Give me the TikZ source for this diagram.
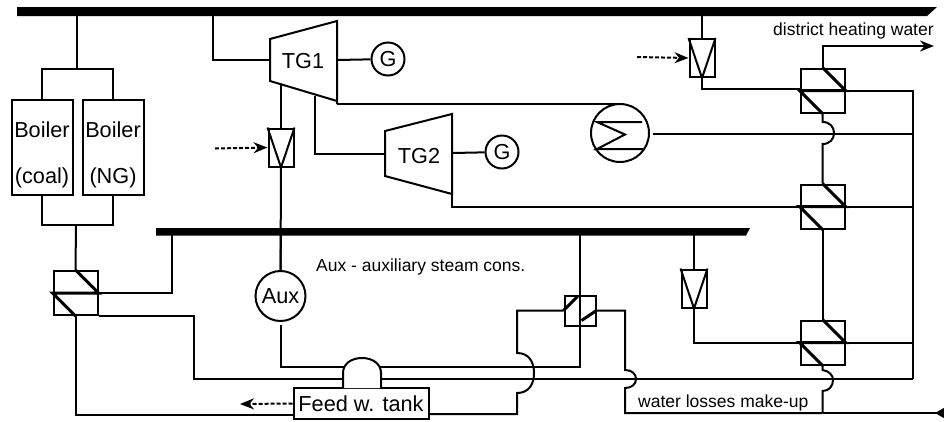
\documentclass[tikz,border=0pt]{standalone}
\usepackage{fontspec}
\setmainfont{Liberation Sans}
\usetikzlibrary{arrows.meta,calc}
\tikzset{
  pipe/.style={line width=2pt},
  coil/.style={line width=3pt},
  bigtext/.style={font=\fontsize{21.7}{25}\selectfont,inner sep=0pt},
  smalltext/.style={font=\fontsize{17.5}{21}\selectfont,inner sep=0pt},
  hxbox/.style={draw,pipe,minimum width=44pt,minimum height=44pt,inner sep=0pt},
  vbox/.style={draw,pipe,minimum width=25pt,minimum height=38pt,inner sep=0pt},
  boilerbox/.style={draw,pipe,minimum width=61pt,minimum height=95pt,inner sep=0pt},
  rotor/.style={draw,pipe,circle,inner sep=0pt,bigtext},
  flow/.style={pipe,-{Stealth[length=14pt,width=11pt]}},
  aidflow/.style={flow,dash pattern=on 4pt off 2pt},
}
% heat exchanger with the z shaped coil, and the valve triangle
\newcommand{\hxcoil}[1]{
  \draw[coil] (#1.north) -- (#1.east) -- (#1.west) -- (#1.south);
}
\newcommand{\vcoil}[1]{
  \draw[pipe] (#1.north west) -- (#1.south) -- (#1.north east);
}
\begin{document}
\begin{tikzpicture}[x=1pt,y=-1pt]
        \useasboundingbox (0,0) rectangle (944,421);

        % steam headers
        \fill (17,7) -- (937,7) -- (927,16) -- (17,16) -- cycle;
        \fill (156,228) -- (750,228) -- (746,235.5) -- (156,235.5) -- cycle;

        \path
        (77,16) coordinate (tapboil)
        (213,16) coordinate (taptg)
        (702,16) coordinate (tapvb)
        (172,235) coordinate (tapa)
        (281,228) coordinate (tapaux)
        (580,235) coordinate (tapc)
        (694,235) coordinate (tapvc)
        (77,69) coordinate (splitb)
        (76,225) coordinate (joinb)
        ;

        \node[boilerbox] (boilc) at (42,147) {};
        \node[boilerbox] (boiln) at (113,147) {};
        \node[bigtext,anchor=base] (boilct) at (42,137) {Boiler};
        \node[bigtext,anchor=base] (boilcb) at (42,183) {(coal)};
        \node[bigtext,anchor=base] (boilnt) at (113,137) {Boiler};
        \node[bigtext,anchor=base] (boilnb) at (113,183) {(NG)};

        \node[hxbox] (hxa) at (75.5,293) {};
        \node[hxbox] (hxb) at (822.5,90.5) {};
        \node[hxbox] (hxd) at (822.5,206.5) {};
        \node[hxbox] (hxe) at (822.5,342.5) {};
        \node[hxbox,minimum width=31pt,minimum height=30pt] (hxc) at (580,310.5) {};
        \hxcoil{hxa}
        \hxcoil{hxb}
        \hxcoil{hxd}
        \hxcoil{hxe}
        \draw[coil] (hxc.west) -- ++(14,-14);
        \draw[coil] (hxc.east) -- ++(-15,10);

        \node[vbox] (vba) at (281,147.5) {};
        \node[vbox] (vbb) at (702,58) {};
        \node[vbox] (vbc) at (694,288.5) {};
        \vcoil{vba}
        \vcoil{vbb}
        \vcoil{vbc}

        % turbines
        \draw[pipe,line join=miter] (270,39) coordinate (tgaw)
        -- (337,21) -- (337,104) coordinate (tgae)
        -- (337,101) -- (270,81) -- cycle;
        \node[bigtext] (tga) at (303,61) {TG1};
        \draw[pipe] (385,131) coordinate (tgbw)
        -- (452,114) -- (452,194) coordinate (tgbe)
        -- (385,176) -- cycle;
        \node[bigtext] (tgb) at (419,156) {TG2};
        \node[rotor,minimum size=33pt] (gena) at (388,59) {G};
        \node[rotor,minimum size=33pt] (genb) at (502,152) {G};
        \node[rotor,minimum size=50pt] (aux) at (280.5,296) {Aux};

        % condenser
        \node[draw,pipe,circle,minimum size=58pt,inner sep=0pt] (cond) at (620,133) {};
        \draw[pipe] (642,122) -- (597,122) -- (625,134.5) -- (597,149) -- (643,149);

        \draw[pipe] (tapboil) -- (splitb);
        \draw[pipe] (boilc.north) |- (splitb) -| (boiln.north);
        \draw[pipe] (boilc.south) |- (joinb) -| (boiln.south);
        \draw[pipe] (joinb) -- (hxa.north);
        \draw[pipe] (hxa.east) -| (tapa);

        \draw[pipe] (taptg) |- (270,60);
        \draw[pipe] (337,60) -- (gena);
        \draw[pipe] (281,85) -- (vba.north);
        \draw[pipe] (vba.south) -- (aux.north);
        \draw[pipe] (315,96) |- (tgbw |- 154,154);
        \draw[pipe] (452,153) -- (genb);
        \draw[pipe] (tgae) -- (622,104);
        \draw[pipe] (tgbe) |- (hxd.west);

        \draw[pipe] (tapvb) -- (vbb.north);
        \draw[pipe] (vbb.south) |- (800,89);
        \draw[pipe] (tapvc) -- (vbc.north);
        \draw[pipe] (vbc.south) |- (hxe.west);
        \draw[flow] (hxb.north) |- (934,46) coordinate (dhwater);

        \coordinate (rtop) at (913,90.5);
        \coordinate (rbot) at (913,379);
        \draw[pipe] (hxb.east) -- (rtop) -- (rbot);
        \draw[pipe] (653,134) -- (rtop |- 653,134);
        \draw[pipe] (hxd.east) -- (rtop |- hxd.east);
        \draw[pipe] (hxe.east) -- (rtop |- hxe.east);

        % pipes jumping over others
        \draw[pipe] (hxb.south) -- (822.5,122)
        .. controls (830,122) and (834,127) .. (834,133)
        .. controls (834,139) and (830,144) .. (822.5,144)
        -- (hxd.north);
        \draw[pipe] (hxd.south) -- (hxe.north);
        \draw[pipe] (hxe.south) -- (822.5,370)
        .. controls (829,371) and (833,375) .. (833,380)
        .. controls (833,386) and (829,391) .. (822.5,391)
        -- (822.5,413) coordinate (makeup);

        \draw[pipe] (hxa.south east) -| (194,379) -- (343,379);
        \draw[pipe] (381,379) -- (rbot);
        \draw[pipe] (aux.south) ++(0,3) |- (346,367);
        \draw[pipe] (377,367) -| (hxc.south);
        \draw[pipe] (tapaux) -- (aux.north);
        \draw[pipe] (tapc) -- (hxc.north);
        \draw[pipe] (hxc.north) -- (hxc.south);

        \node[draw,pipe,fill=white,bigtext,minimum width=135pt,minimum height=31pt] (tank) at (361,403.5) {Feed w. tank};
        \draw[pipe,fill=white] (343,388) -- (343,373)
        .. controls (343,364) and (351,358) .. (362,358)
        .. controls (373,358) and (381,364) .. (381,373)
        -- (381,388);

        \draw[pipe] (hxa.south) |- (tank.west |- 293,415);
        \draw[pipe] (tank.east |- 429,414) -| (517,393)
        .. controls (529,393) and (534,384) .. (534,373)
        .. controls (534,362) and (529,353) .. (517,353)
        |- (hxc.west);
        \draw[pipe] (hxc.east) -| (625,370)
        .. controls (632,370) and (636,374) .. (636,379)
        .. controls (636,384) and (632,388) .. (625,388)
        -- (625,413) -- (makeup);
        \draw[pipe] (makeup) -- (944,413);
        \coordinate (mkin) at (946,413);
        \draw[pipe,-{Stealth[length=11pt,width=12pt,inset=0pt]}] (mkin) -- (935,413);

        % dashed inlets and outlet
        \draw[aidflow] (215,148.5) coordinate (aidv) -- (vba.west);
        \draw[aidflow] (637,57) coordinate (aidb) -- (vbb.west);
        \draw[aidflow] (tank.west) -- (240,404) coordinate (aidt);

        \node[smalltext,anchor=base west] (dhlabel) at (773,35) {district heating water};
        \node[smalltext,anchor=base west] (auxlabel) at (316,271) {Aux - auxiliary steam cons.};
        \node[smalltext,anchor=base west] (losslabel) at (638,407) {water losses make-up};
\end{tikzpicture}
\end{document}
